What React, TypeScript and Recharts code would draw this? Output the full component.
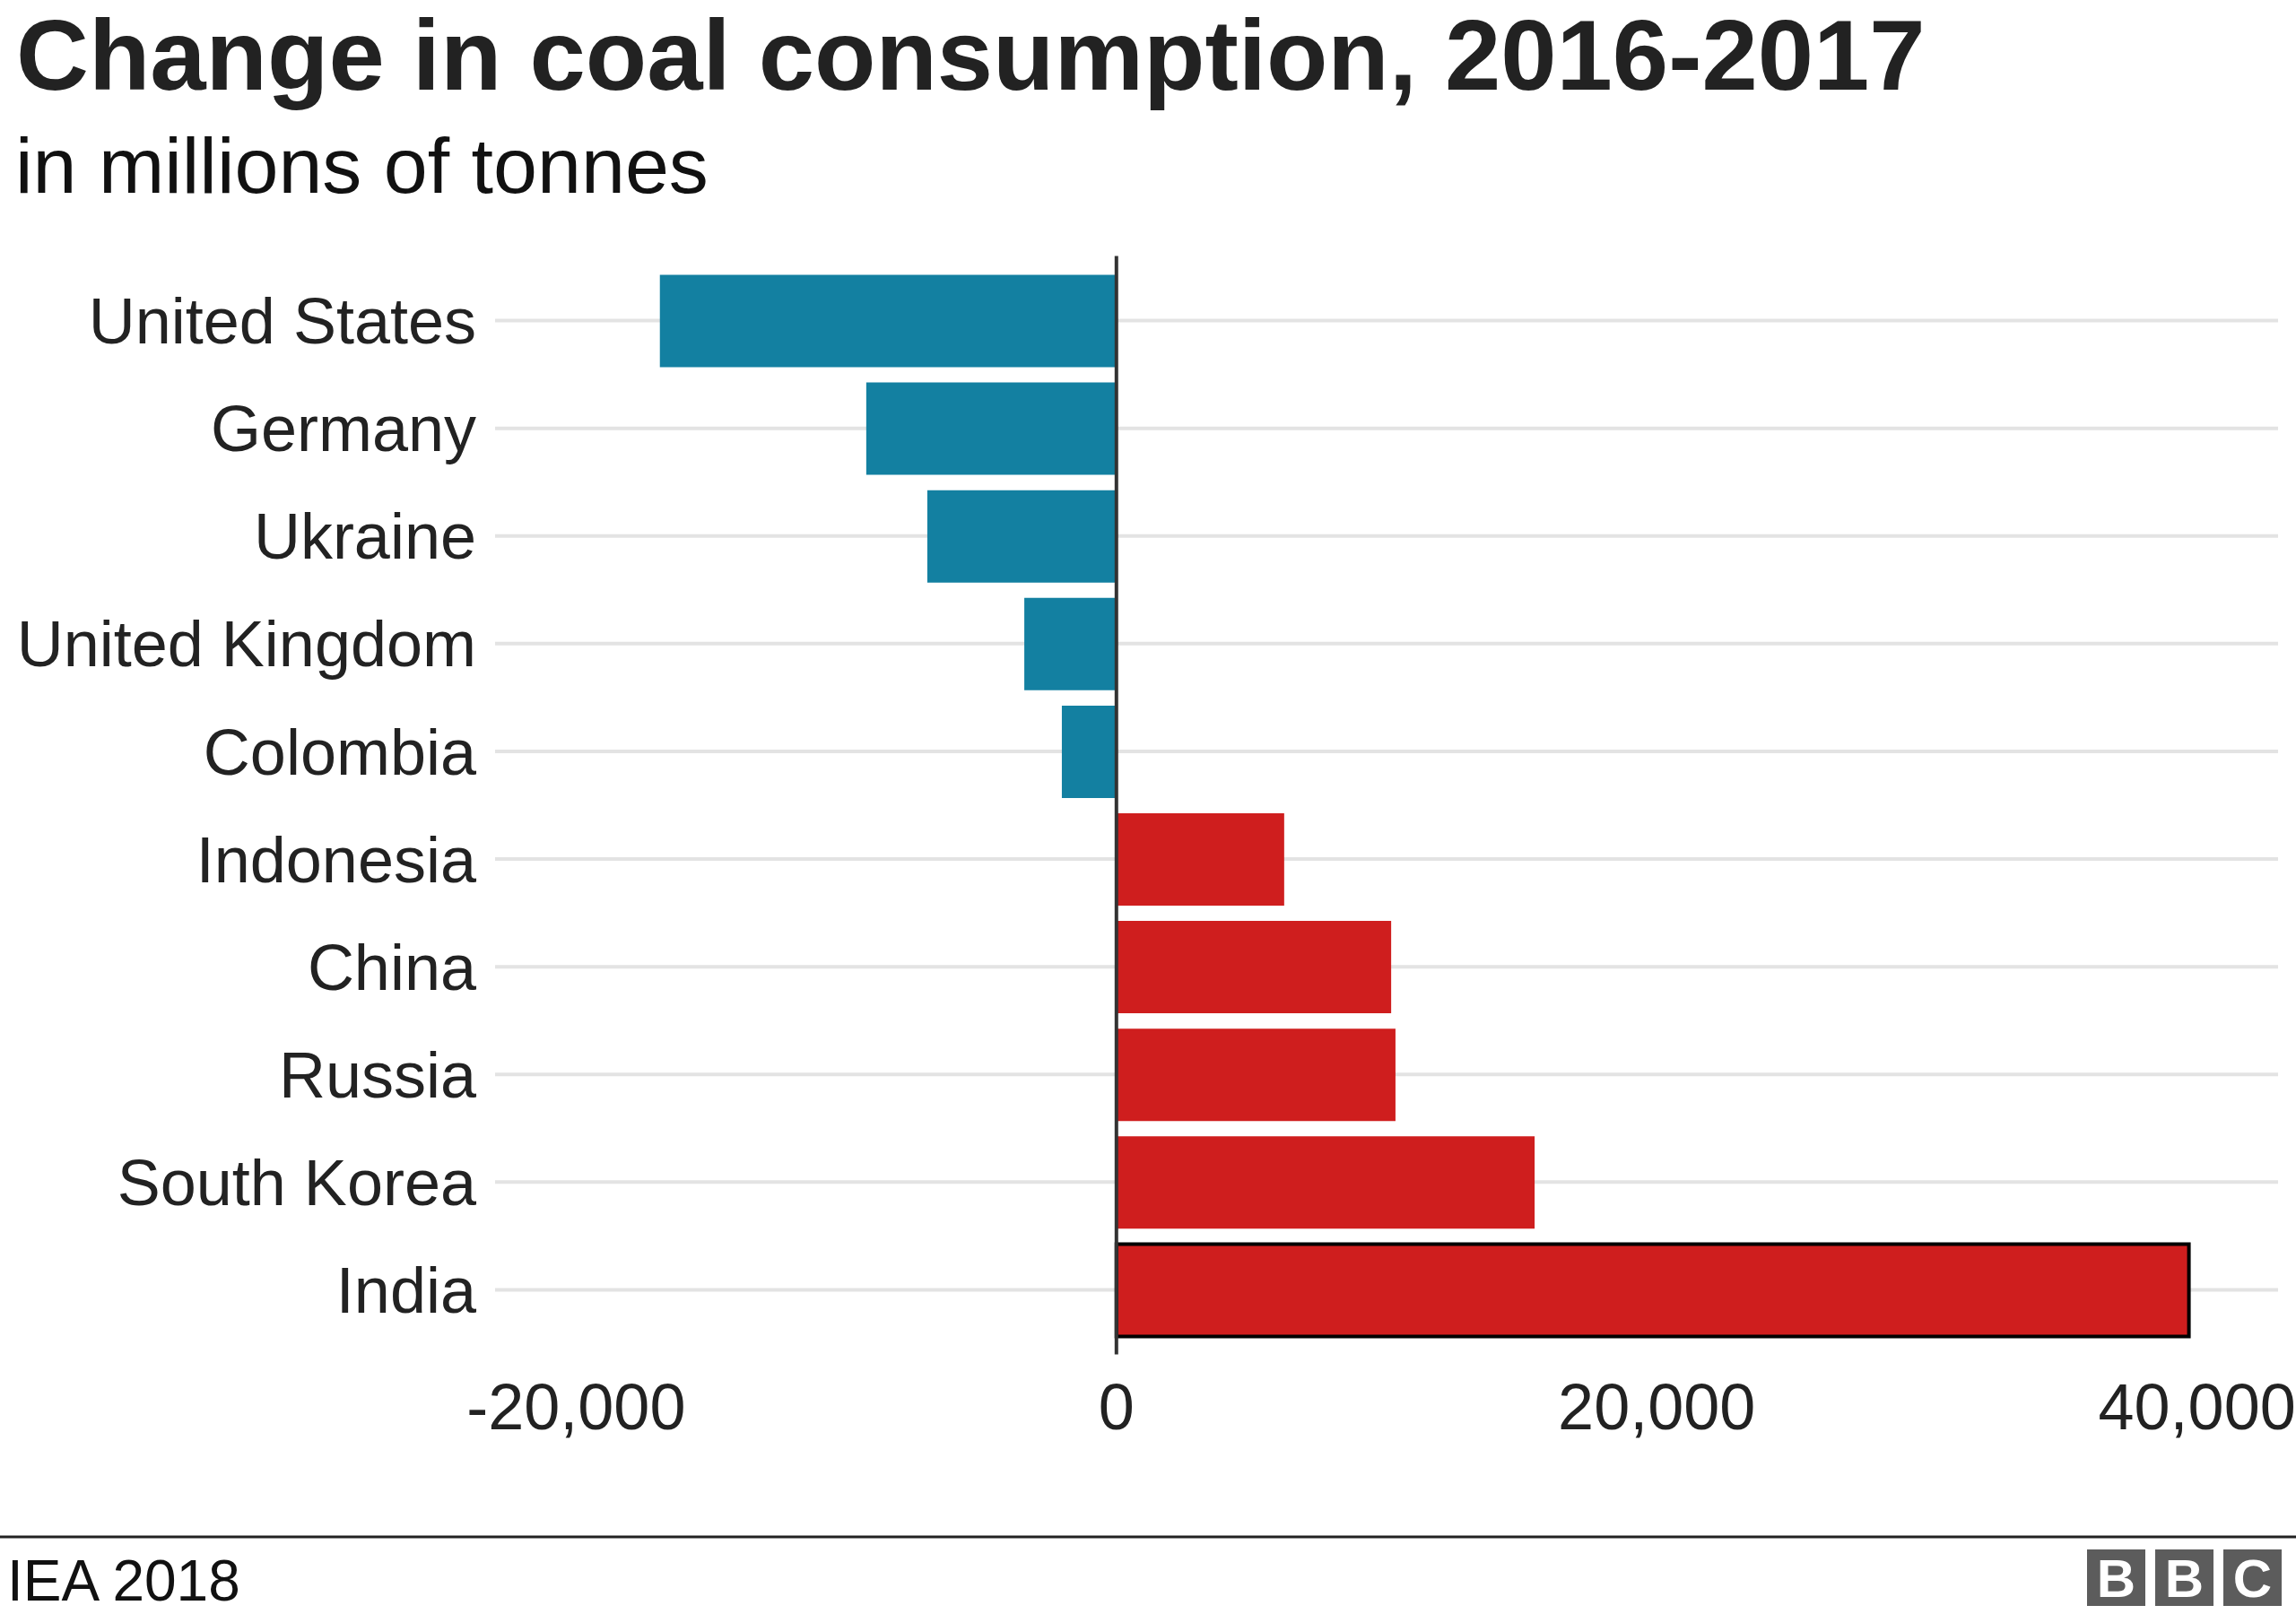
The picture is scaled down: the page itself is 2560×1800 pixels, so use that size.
import { Bar, BarChart, CartesianGrid, Cell, ReferenceLine, XAxis, YAxis } from 'recharts'

const countries = [
  'United States',
  'Germany',
  'Ukraine',
  'United Kingdom',
  'Colombia',
  'Indonesia',
  'China',
  'Russia',
  'South Korea',
  'India',
]
const changes = [-16900, -9260, -7000, -3410, -2020, 6210, 10170, 10330, 15480, 39700]
const xTicks = [-20000, 0, 20000, 40000]
const highlighted = 'India'

const data = countries.map((name, i) => ({ name, value: changes[i] }))

const font = '"Liberation Sans", Arial, Helvetica, sans-serif'
const ink = '#222222'
const blue = '#1380A1'
const red = '#CF1E1E'
const tickStyle = { fill: ink, fontSize: 72, fontFamily: font }

const plotTop = 285.5
const plotBottom = 1510.5

// grid only at the category centres, not on the plot edges
function gridLine(p: any) {
  const edge = Math.abs(p.y1 - plotTop) < 2 || Math.abs(p.y1 - plotBottom) < 2
  if (edge) return <g key={p.key} />
  return (
    <line
      key={p.key}
      x1={p.x1}
      x2={p.x2}
      y1={p.y1}
      y2={p.y2}
      stroke="#e3e3e3"
      strokeWidth={4}
    />
  )
}

function Logo() {
  const letters = ['B', 'B', 'C']
  return (
    <g>
      {letters.map((l, i) => (
        <g key={i}>
          <rect x={2327 + i * 76} y={1728} width={65} height={63} fill="#5c5c5c" />
          <text
            x={2327 + i * 76 + 32.5}
            y={1781}
            textAnchor="middle"
            fontSize={60}
            fontWeight="bold"
            fill="#fff"
            fontFamily={font}
          >
            {l}
          </text>
        </g>
      ))}
    </g>
  )
}

export default function App() {
  return (
    <div
      style={{
        position: 'absolute',
        left: 0,
        top: 0,
        width: 2560,
        height: 1800,
        background: '#fff',
        fontFamily: font,
      }}
    >
      <BarChart
        width={2560}
        height={1800}
        layout="vertical"
        data={data}
        margin={{ top: plotTop, right: 20, bottom: 1800 - plotBottom - 100, left: 0 }}
      >
        <CartesianGrid vertical={false} horizontal={gridLine} />
        <XAxis
          type="number"
          domain={[-23000, 43000]}
          ticks={xTicks}
          allowDataOverflow
          height={100}
          tick={tickStyle}
          tickSize={0}
          tickMargin={32}
          axisLine={false}
          tickLine={false}
          tickFormatter={(v: number) => v.toLocaleString('en-US')}
        />
        <YAxis
          type="category"
          dataKey="name"
          width={552}
          tick={tickStyle}
          tickSize={0}
          tickMargin={21}
          axisLine={false}
          tickLine={false}
          interval={0}
          padding={{ top: 12, bottom: 12 }}
        />
        <Bar dataKey="value" barSize={103} isAnimationActive={false}>
          {data.map((d) => (
            <Cell
              key={d.name}
              fill={d.value < 0 ? blue : red}
              stroke={d.name === highlighted ? '#000' : 'none'}
              strokeWidth={d.name === highlighted ? 4 : 0}
            />
          ))}
        </Bar>
        <ReferenceLine x={0} stroke="#333" strokeWidth={4} />
      </BarChart>
      <svg
        width={2560}
        height={1800}
        style={{ position: 'absolute', left: 0, top: 0, pointerEvents: 'none' }}
      >
        <text x={18} y={100} fontSize={112} fontWeight="bold" fill={ink} fontFamily={font}>
          Change in coal consumption, 2016-2017
        </text>
        <text x={17} y={215} fontSize={88} fill="#111" fontFamily={font}>
          in millions of tonnes
        </text>
        <line x1={0} x2={2560} y1={1714} y2={1714} stroke={ink} strokeWidth={3} />
        <text x={8} y={1785} fontSize={64} fill="#111" fontFamily={font}>
          IEA 2018
        </text>
        <Logo />
      </svg>
    </div>
  )
}
